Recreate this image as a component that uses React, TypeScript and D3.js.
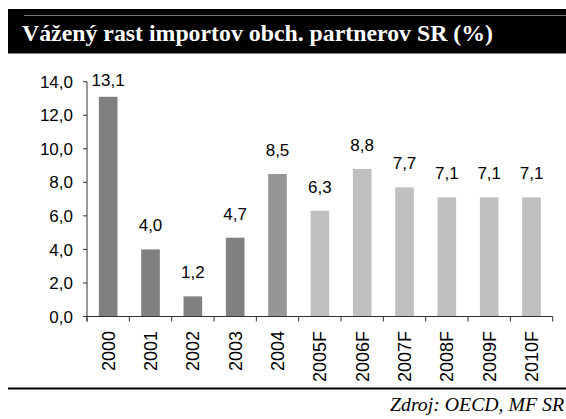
import React from 'react';
import * as d3 from 'd3';

// data
const years = ['2000', '2001', '2002', '2003', '2004', '2005F', '2006F', '2007F', '2008F', '2009F', '2010F'];
const growth = [13.1, 4.0, 1.2, 4.7, 8.5, 6.3, 8.8, 7.7, 7.1, 7.1, 7.1];
const barColors = ['#808080', '#808080', '#808080', '#808080', '#969696', '#c0c0c0', '#c0c0c0', '#c0c0c0', '#c0c0c0', '#c0c0c0', '#c0c0c0'];
const yTickValues = [0, 2, 4, 6, 8, 10, 12, 14];

const title = 'Vážený rast importov obch. partnerov SR (%)';
const source = 'Zdroj: OECD, MF SR';

const fmt = (v: number) => d3.format('.1f')(v).replace('.', ',');

export default function App() {
    const width = 566;
    const height = 419;
    const margin = { t: 81.7, b: 316.5, l: 87, r: 552.7 };

    const x = d3.scaleBand<string>()
        .domain(years)
        .range([margin.l, margin.r])
        .paddingInner(0.56)
        .paddingOuter(0.28);

    const y = d3.scaleLinear()
        .domain([0, 14])
        .range([margin.b, margin.t]);

    const step = x.step();
    const font = 'Arial, "Liberation Sans", sans-serif';

    // y ticks and labels
    const yTicks = yTickValues.map(d => (
        <g key={d} transform={`translate(${margin.l},${y(d)})`}>
            <line x1={-4} x2={0} y1={0} y2={0} stroke="#333" />
            <text x={-14} y={0} dy="0.36em" textAnchor="end" fontSize={17} fontFamily={font} fill="#000">{fmt(d)}</text>
        </g>
    ));

    // x ticks at band edges
    const xTicks = d3.range(years.length + 1).map(i => {
        const px = margin.l + i * step;
        return <line key={i} x1={px} x2={px} y1={margin.b} y2={margin.b + 5} stroke="#333" />;
    });

    const bars = years.map((yr, i) => (
        <rect key={yr} x={x(yr)} y={y(growth[i])} width={x.bandwidth()}
            height={margin.b - y(growth[i])} fill={barColors[i]} />
    ));

    const values = years.map((yr, i) => (
        <text key={yr} x={(x(yr) as number) + x.bandwidth() / 2}
            y={Math.max(y(growth[i]) - 18, 86)}
            textAnchor="middle" fontSize={17} fontFamily={font} fill="#000">{fmt(growth[i])}</text>
    ));

    const xLabels = years.map(yr => {
        const cx = (x(yr) as number) + x.bandwidth() / 2;
        return (
            <text key={yr} transform={`translate(${cx + 6.5},331) rotate(-90)`}
                textAnchor="end" fontSize={18} fontFamily={font} fill="#000">{yr}</text>
        );
    });

    return (
        <svg width={width} height={height} style={{ position: 'absolute', left: 0, top: 0 }}>
            <rect x={0} y={0} width={width} height={height} fill="#fff" />
            {/* title band */}
            <rect x={8} y={9} width={width - 8} height={44} fill="#000" />
            <line x1={24} x2={width} y1={15.5} y2={15.5} stroke="#777" strokeWidth={1} />
            <line x1={8} x2={width} y1={53.5} y2={53.5} stroke="#888" strokeWidth={1} />
            <text x={22} y={41} fontSize={23} fontWeight="bold" fill="#fff"
                fontFamily='"Liberation Serif", "Times New Roman", serif'
                textLength={471} lengthAdjust="spacingAndGlyphs">{title}</text>

            <g>{bars}</g>
            <line x1={margin.l} x2={margin.l} y1={margin.t} y2={margin.b + 5} stroke="#333" />
            <line x1={margin.l - 4} x2={margin.r} y1={margin.b} y2={margin.b} stroke="#333" />
            <g>{yTicks}</g>
            <g>{xTicks}</g>
            <g>{values}</g>
            <g>{xLabels}</g>

            {/* footer */}
            <line x1={8} x2={width} y1={388.5} y2={388.5} stroke="#000" strokeWidth={2} />
            <text x={564} y={411} textAnchor="end" fontSize={19} fontStyle="italic"
                fontFamily='"Liberation Serif", "Times New Roman", serif' fill="#000"
                textLength={174} lengthAdjust="spacingAndGlyphs">{source}</text>
        </svg>
    );
}
